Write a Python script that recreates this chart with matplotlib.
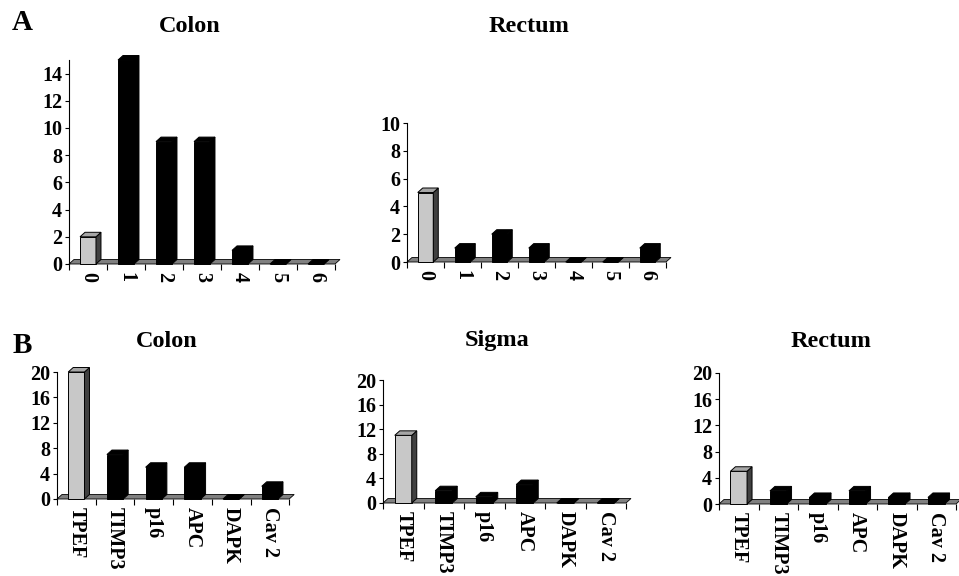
import matplotlib
matplotlib.use("Agg")
import matplotlib.pyplot as plt
from matplotlib.patches import Polygon
import numpy as np

W, H = 959, 576

# data
a_cats = ["0", "1", "2", "3", "4", "5", "6"]
a_colon = [2, 15, 9, 9, 1, 0, 0]
a_rectum = [5, 1, 2, 1, 0, 0, 1]

b_cats = ["TPEF", "TIMP3", "p16", "APC", "DAPK", "Cav 2"]
b_colon = [20, 7, 5, 5, 0, 2]
b_sigma = [11, 2, 1, 3, 0, 0]
b_rectum = [5, 2, 1, 2, 1, 1]

FONT = "Liberation Serif"
DX_PX, DY_PX = 5, 4.5
EXTRA = 0.15


def make_ax(left, bottom, cat_px, n, top):
    # pixel layout -> figure fraction
    width = (n + EXTRA) * cat_px
    return fig.add_axes([left / W, 1 - bottom / H, width / W, (bottom - top) / H])


def draw_panel(ax, cats, vals, ytop, yticks):
    n = len(cats)
    x = np.arange(n)
    ax.set_xlim(-0.5, n - 0.5 + EXTRA)
    ax.set_ylim(0, ytop)
    pos = ax.get_position()
    dx = DX_PX / (pos.width * W / (n + EXTRA))
    dy = DY_PX / (pos.height * H / ytop)

    # floor
    floor = Polygon([(-0.5, 0), (n - 0.5, 0), (n - 0.5 + dx, dy), (-0.5 + dx, dy)],
                    closed=True, fc="#808080", ec="black", lw=0.6, zorder=1, clip_on=False)
    ax.add_patch(floor)

    front = ["#c8c8c8"] + ["black"] * (n - 1)
    tops = ["#a6a6a6"] + ["black"] * (n - 1)
    sides = ["#404040"] + ["black"] * (n - 1)
    bars = ax.bar(x, vals, width=0.42, color=front, edgecolor="black", lw=0.7,
                  zorder=3, clip_on=False)
    for b, tc, sc in zip(bars, tops, sides):
        x0 = b.get_x()
        x1 = x0 + b.get_width()
        h = b.get_height()
        top = Polygon([(x0, h), (x1, h), (x1 + dx, h + dy), (x0 + dx, h + dy)],
                      closed=True, fc=tc, ec="black", lw=0.7, zorder=3, clip_on=False)
        side = Polygon([(x1, 0), (x1 + dx, dy), (x1 + dx, h + dy), (x1, h)],
                       closed=True, fc=sc, ec="black", lw=0.7, zorder=3, clip_on=False)
        ax.add_patch(side)
        ax.add_patch(top)

    for s in ["top", "right", "bottom"]:
        ax.spines[s].set_visible(False)
    ax.spines["left"].set_linewidth(0.8)
    ax.set_yticks(yticks)
    ax.set_xticks(x)
    ax.set_xticklabels(cats, rotation=-90, va="top", ha="center")
    ax.set_xticks(np.arange(n + 1) - 0.5, minor=True)
    ax.tick_params(axis="x", which="major", length=0, pad=6)
    ax.tick_params(axis="x", which="minor", length=4, width=0.8, direction="out")
    ax.tick_params(axis="y", length=3, width=0.8, pad=2)
    for lab in ax.get_xticklabels() + ax.get_yticklabels():
        lab.set_fontfamily(FONT)
        lab.set_fontweight("bold")
        lab.set_fontsize(14.5)


fig = plt.figure(figsize=(W / 100, H / 100), dpi=100)

ax1 = make_ax(69, 264, 38, 7, 60)
draw_panel(ax1, a_cats, a_colon, 15, range(0, 15, 2))
ax2 = make_ax(407, 262, 37, 7, 123)
draw_panel(ax2, a_cats, a_rectum, 10, range(0, 11, 2))

ax3 = make_ax(57, 499, 38.7, 6, 372)
draw_panel(ax3, b_cats, b_colon, 20, range(0, 21, 4))
ax4 = make_ax(383, 503, 40.5, 6, 380)
draw_panel(ax4, b_cats, b_sigma, 20, range(0, 21, 4))
ax5 = make_ax(719, 504, 39.5, 6, 373)
draw_panel(ax5, b_cats, b_rectum, 20, range(0, 21, 4))

tkw = dict(fontfamily=FONT, fontweight="bold", ha="center", va="baseline")
fig.text(22 / W, 1 - 30 / H, "A", fontsize=21, **tkw)
fig.text(22 / W, 1 - 353 / H, "B", fontsize=21, **tkw)
fig.text(190 / W, 1 - 32 / H, "Colon", fontsize=17.5, **tkw)
fig.text(529 / W, 1 - 32 / H, "Rectum", fontsize=17.5, **tkw)
fig.text(167 / W, 1 - 347 / H, "Colon", fontsize=17.5, **tkw)
fig.text(497 / W, 1 - 346 / H, "Sigma", fontsize=17.5, **tkw)
fig.text(831 / W, 1 - 347 / H, "Rectum", fontsize=17.5, **tkw)

fig.savefig("out.png", dpi=100)
